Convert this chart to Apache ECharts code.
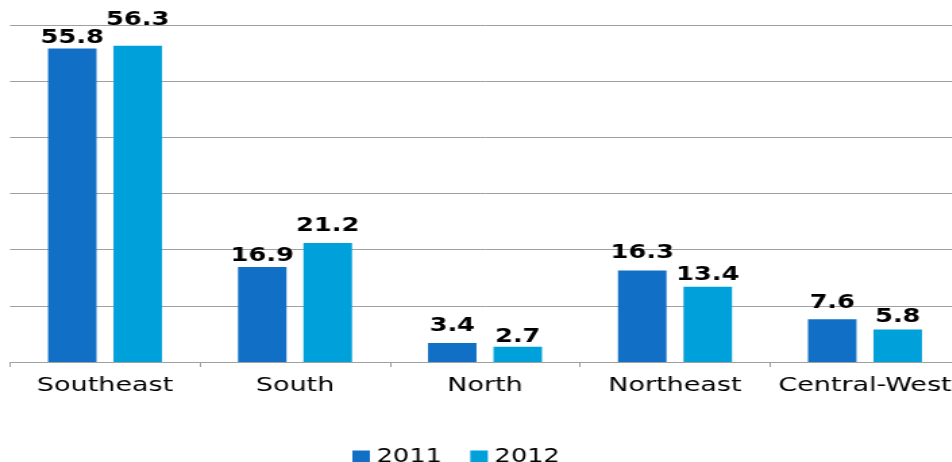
<!DOCTYPE html>
<html>
<head>
<meta charset="utf-8">
<script src="https://cdn.jsdelivr.net/npm/echarts@6/dist/echarts.min.js"></script>
<style>
  html, body { margin: 0; padding: 0; background: #ffffff; overflow: hidden; }
  #wrap { width: 952px; height: 462px; overflow: hidden; }
  #chart { width: 715px; height: 462px; transform: scaleX(1.35); transform-origin: 0 0; }
</style>
</head>
<body>
<div id="wrap"><div id="chart"></div></div>
<script>
const categories = ['Southeast', 'South', 'North', 'Northeast', 'Central-West'];
const seriesNames = ['2011', '2012'];
const values2011 = [55.8, 16.9, 3.4, 16.3, 7.6];
const values2012 = [56.3, 21.2, 2.7, 13.4, 5.8];

// label gap above each bar (style only, as placed in the reference)
const labelGap2011 = [1.5, 2, 7, 8, 7];
const labelGap2012 = [16, 7, 0, 2, 3];

const FONT = 'DejaVu Sans';
const chart = echarts.init(document.getElementById('chart'), null, { renderer: 'canvas' });

const labelStyle = {
  show: true,
  position: 'top',
  color: '#000000',
  fontFamily: FONT,
  fontWeight: 'bold',
  fontSize: 19,
  formatter: p => p.value.toFixed(1)
};

function withGaps(values, gaps) {
  return values.map((v, i) => ({ value: v, label: { distance: gaps[i] } }));
}

chart.setOption({
  animation: false,
  backgroundColor: '#ffffff',
  grid: { left: 7.4, top: 25, width: 703.7, height: 337, containLabel: false },
  legend: {
    data: seriesNames,
    left: 256,
    top: 443,
    itemWidth: 13,
    itemHeight: 14,
    itemGap: 21,
    icon: 'rect',
    textStyle: { fontFamily: FONT, fontSize: 19, color: '#000000' }
  },
  xAxis: {
    type: 'category',
    data: categories,
    axisLine: { show: true, lineStyle: { color: '#a0a0a0', width: 1 } },
    axisTick: { show: true, length: 5, alignWithLabel: false, lineStyle: { color: '#a0a0a0' } },
    axisLabel: { fontFamily: FONT, fontSize: 20, color: '#000000', margin: 14, interval: 0 },
    splitLine: { show: false }
  },
  yAxis: {
    type: 'value',
    min: 0,
    max: 60,
    interval: 10,
    axisLine: { show: false },
    axisTick: { show: false },
    axisLabel: { show: false },
    splitLine: { show: true, lineStyle: { color: '#a0a0a0', width: 1 } }
  },
  series: [
    {
      name: seriesNames[0],
      type: 'bar',
      data: withGaps(values2011, labelGap2011),
      barGap: '35%',
      barCategoryGap: '40%',
      itemStyle: { color: '#1170C6' },
      label: labelStyle
    },
    {
      name: seriesNames[1],
      type: 'bar',
      data: withGaps(values2012, labelGap2012),
      itemStyle: { color: '#00A0DA' },
      label: labelStyle
    }
  ]
});
</script>
</body>
</html>
